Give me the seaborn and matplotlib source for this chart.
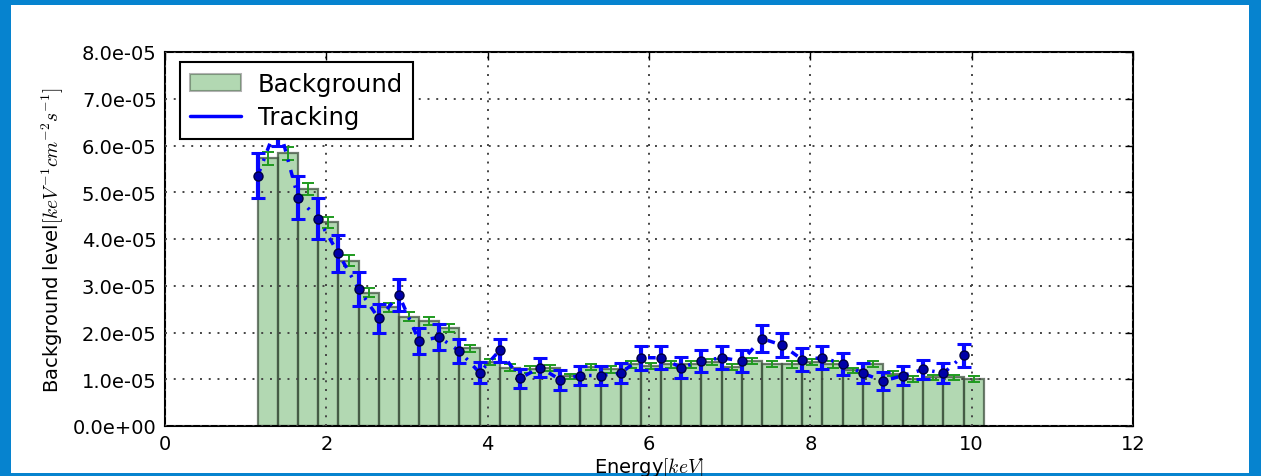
import numpy as np
import pandas as pd
import matplotlib
matplotlib.use("Agg")
import matplotlib.pyplot as plt
from matplotlib.patches import Rectangle, Patch
from matplotlib.lines import Line2D
from matplotlib.ticker import FormatStrFormatter
import seaborn as sns

# ---- data (units of 1e-5 keV^-1 cm^-2 s^-1) ----
energy_lo = [1.15, 1.40, 1.65, 1.90, 2.15, 2.40, 2.65, 2.90, 3.15, 3.40, 3.65, 3.90,
             4.15, 4.40, 4.65, 4.90, 5.15, 5.40, 5.65, 5.90, 6.15, 6.40, 6.65, 6.90,
             7.15, 7.40, 7.65, 7.90, 8.15, 8.40, 8.65, 8.90, 9.15, 9.40, 9.65, 9.90]
bin_width = 0.25
background = [5.73, 5.83, 5.07, 4.36, 3.54, 2.85, 2.54, 2.34, 2.24, 2.10, 1.66, 1.37,
              1.25, 1.21, 1.24, 1.06, 1.26, 1.21, 1.32, 1.28, 1.32, 1.32, 1.37, 1.26,
              1.39, 1.33, 1.32, 1.37, 1.32, 1.19, 1.33, 1.12, 1.01, 1.04, 1.04, 1.00]
background_err = [0.14, 0.14, 0.13, 0.12, 0.11, 0.10, 0.10, 0.09, 0.09, 0.09, 0.08, 0.07,
                  0.07, 0.07, 0.07, 0.06, 0.07, 0.07, 0.07, 0.07, 0.07, 0.07, 0.07, 0.07,
                  0.07, 0.07, 0.07, 0.07, 0.07, 0.06, 0.07, 0.06, 0.06, 0.06, 0.06, 0.06]
tracking = [5.35, 6.50, 4.88, 4.43, 3.69, 2.93, 2.30, 2.80, 1.82, 1.90, 1.60, 1.14,
            1.62, 1.02, 1.25, 0.99, 1.08, 1.08, 1.13, 1.46, 1.46, 1.25, 1.39, 1.46,
            1.39, 1.87, 1.73, 1.42, 1.46, 1.33, 1.13, 0.96, 1.08, 1.21, 1.13, 1.51]
tracking_err = [0.48, 0.50, 0.46, 0.44, 0.39, 0.36, 0.31, 0.34, 0.28, 0.28, 0.26, 0.23,
                0.25, 0.20, 0.21, 0.21, 0.20, 0.21, 0.22, 0.26, 0.25, 0.22, 0.24, 0.25,
                0.24, 0.28, 0.26, 0.24, 0.25, 0.24, 0.22, 0.20, 0.21, 0.21, 0.22, 0.25]
scale = 1e-5
xticks = [0, 2, 4, 6, 8, 10, 12]
yticks = [0, 1e-5, 2e-5, 3e-5, 4e-5, 5e-5, 6e-5, 7e-5, 8e-5]

sns.set_style("white")
plt.rcParams["font.family"] = ["DejaVu Sans"]
plt.rcParams["mathtext.fontset"] = "cm"
plt.rcParams["text.color"] = "k"
plt.rcParams["axes.labelcolor"] = "k"
plt.rcParams["xtick.color"] = "k"
plt.rcParams["ytick.color"] = "k"

e_lo = np.array(energy_lo)
bg = np.array(background) * scale
bg_err = np.array(background_err) * scale
tr = np.array(tracking) * scale
tr_err = np.array(tracking_err) * scale
centers = e_lo + bin_width / 2
edges = np.append(e_lo, e_lo[-1] + bin_width)
df = pd.DataFrame({"energy": centers, "level": bg})

W, H = 1261, 477
fig = plt.figure(figsize=(W / 100, H / 100), dpi=100)
fig.patch.set_facecolor("#0683cf")
fig.patches.append(Rectangle((11 / W, 3 / H), (1249 - 11) / W, (471 - 3) / H,
                             transform=fig.transFigure, facecolor="white",
                             edgecolor="none", zorder=-10))
ax = fig.add_axes([165 / W, 1 - 427 / H, (1133 - 165) / W, (427 - 53) / H])
ax.set_zorder(1)
ax.set_facecolor("white")

sns.histplot(data=df, x="energy", weights="level", bins=list(edges), stat="count",
             color="g", alpha=0.3, edgecolor="#5e705e", linewidth=1.6, ax=ax, zorder=2)
for p in ax.patches:
    p.set_edgecolor((0.25, 0.32, 0.25, 0.75))
ax.errorbar(centers, bg, yerr=bg_err, fmt="none", ecolor="#1f9a1f", elinewidth=1.4,
            capsize=4, capthick=1.4, zorder=3)
ax.errorbar(e_lo, tr, yerr=tr_err, fmt="o", color="b", lw=2.5,
            linestyle=(0, (2.2, 2.4, 0.7, 2.4)),
            markerfacecolor="#0000a8", markeredgecolor="#000040", markersize=6.5,
            elinewidth=3, ecolor="#0808ff", capsize=5, capthick=2.2, zorder=4)

ax.set_xlim(0, 12)
ax.set_ylim(0, 8e-5)
ax.set_xticks(xticks)
ax.set_yticks(yticks)
ax.yaxis.set_major_formatter(FormatStrFormatter("%.1e"))
ax.grid(True, color="#444444", linestyle=(0, (1, 3.5)), linewidth=1.4)
ax.set_axisbelow(False)
for gl in ax.get_xgridlines() + ax.get_ygridlines():
    gl.set_zorder(2.5)
ax.tick_params(direction="in", length=6, width=1, top=True, right=True,
               labelsize=14, pad=6, color="k", labelcolor="k")
for s in ax.spines.values():
    s.set_color("k")
    s.set_linewidth(1.5)
ax.set_xlabel("Energy$[keV]$", fontsize=14, labelpad=1, color="k")
ax.set_ylabel("Background level$[keV^{-1}cm^{-2}s^{-1}]$", fontsize=14, labelpad=5,
              color="k")

handles = [Patch(facecolor="g", alpha=0.3, edgecolor="k", linewidth=1.5),
           Line2D([], [], color="b", lw=2.5)]
leg = ax.legend(handles, ["Background", "Tracking"], loc="upper left",
                fontsize=17.5, fancybox=False, framealpha=1, edgecolor="k",
                borderpad=0.4, handlelength=2.1, handletextpad=0.7,
                borderaxespad=0, bbox_to_anchor=(15 / 968, 1 - 10 / 374),
                labelspacing=0.4)
leg.get_frame().set_linewidth(1.5)
leg.set_zorder(10)
for t in leg.get_texts():
    t.set_color("k")

fig.savefig("out.png", dpi=100, facecolor=fig.get_facecolor())
